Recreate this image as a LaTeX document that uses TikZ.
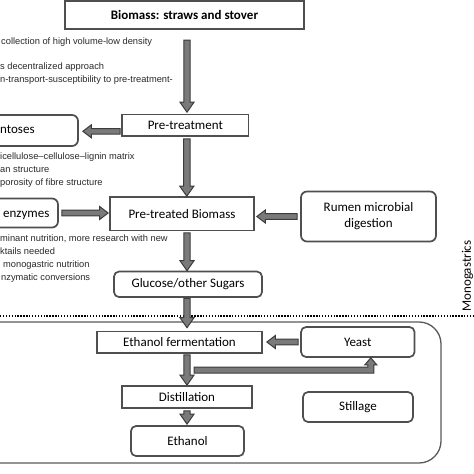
\documentclass[tikz,border=0pt]{standalone}
\usepackage{fontspec}
\setmainfont{Carlito}
\newfontfamily\notefont{Liberation Sans}
\usetikzlibrary{calc}
\definecolor{boxline}{HTML}{4F4F4F}
\definecolor{arrfill}{HTML}{7A7A7A}
\definecolor{arrline}{HTML}{3C3C3C}
\definecolor{notecol}{HTML}{2A2A2A}
\definecolor{sepline}{HTML}{5A5A5A}
\begin{document}
\begin{tikzpicture}[x=1pt,y=-1pt,
  sbox/.style={draw=boxline,line width=1.7pt,fill=white,inner sep=0pt,font=\fontsize{13}{16}\selectfont},
  rbox/.style={sbox,rounded corners=6pt},
  note/.style={font=\notefont\fontsize{9.3}{11}\selectfont,text=notecol,anchor=base west,inner sep=0pt},
  boxtext/.style={font=\fontsize{13}{16}\selectfont,anchor=base west,inner sep=0pt},
  barrow/.style={fill=arrfill,draw=arrline,line width=1pt,line join=miter},
  adown/.style={barrow,to path={let \p1=(\tikztostart), \p2=(\tikztotarget) in
    ({\x1-3.2pt},\y1) -- ({\x1-3.2pt},{\y2+10pt}) -- ({\x1-7pt},{\y2+10pt}) -- (\x1,\y2)
    -- ({\x1+7pt},{\y2+10pt}) -- ({\x1+3.2pt},{\y2+10pt}) -- ({\x1+3.2pt},\y1) -- cycle}},
  aleft/.style={barrow,to path={let \p1=(\tikztostart), \p2=(\tikztotarget) in
    (\x1,{\y1+2.8pt}) -- ({\x2+8.5pt},{\y1+2.8pt}) -- ({\x2+8.5pt},{\y1+6.5pt}) -- (\x2,\y1)
    -- ({\x2+8.5pt},{\y1-6.5pt}) -- ({\x2+8.5pt},{\y1-2.8pt}) -- (\x1,{\y1-2.8pt}) -- cycle}},
  aright/.style={barrow,to path={let \p1=(\tikztostart), \p2=(\tikztotarget) in
    (\x1,{\y1+2.8pt}) -- ({\x2-8.5pt},{\y1+2.8pt}) -- ({\x2-8.5pt},{\y1+6.5pt}) -- (\x2,\y1)
    -- ({\x2-8.5pt},{\y1-6.5pt}) -- ({\x2-8.5pt},{\y1-2.8pt}) -- (\x1,{\y1-2.8pt}) -- cycle}},
]
\useasboundingbox (0,0) rectangle (474,474);
\clip (0,0) rectangle (474,474);
\fill[white] (0,0) rectangle (474,474);

% separators
\draw[black,line width=1.8pt,dash pattern=on 1.4pt off 1.5pt] (0,316) -- (474,316);
\draw[sepline,line width=1.3pt,rounded corners=22pt] (-30,322) -- (441,322) -- (441,463) -- (-30,463);
\node[rotate=90,anchor=base,inner sep=0pt,font=\fontsize{13}{16}\selectfont] (mono) at (470.8,276) {Monogastrics};

% boxes
\node[sbox,minimum width=239pt,minimum height=28.5pt,font=\bfseries\fontsize{13}{16}\selectfont] (bio) at (184.5,15) {Biomass: straws and stover};
\node[sbox,minimum width=126.5pt,minimum height=21.5pt] (pre) at (185.3,125.3) {Pre-treatment};
\node[rbox,minimum width=134pt,minimum height=31pt] (pent) at (11,130.5) {};
\node[boxtext] (pentt) at (0,133.8) {ntoses};
\node[sbox,minimum width=144pt,minimum height=33.5pt] (prebio) at (182,213.8) {Pre-treated Biomass};
\node[rbox,minimum width=76pt,minimum height=29pt] (enz) at (20,213) {};
\node[boxtext] (enzt) at (3,217) {enzymes};
\node[rbox,minimum width=135pt,minimum height=50pt,align=center] (rumen) at (368.5,216.5) {Rumen microbial\\digestion};
\node[rbox,rounded corners=5pt,minimum width=148pt,minimum height=25.5pt] (glu) at (188,284.3) {Glucose/other Sugars};
\node[sbox,minimum width=165pt,minimum height=21.5pt] (ethf) at (179.5,342.3) {Ethanol fermentation};
\node[rbox,rounded corners=5pt,minimum width=113.5pt,minimum height=30pt] (yeast) at (357.8,342) {Yeast};
\node[sbox,minimum width=130pt,minimum height=22pt] (dist) at (187,397) {Distillation};
\node[rbox,rounded corners=5pt,minimum width=110pt,minimum height=30pt] (still) at (358,407) {Stillage};
\node[rbox,rounded corners=5pt,minimum width=113pt,minimum height=30pt] (eth) at (187.5,441) {Ethanol};

% notes
\node[note] (n1) at (1,44) {collection of high volume-low density};
\node[note] (n2) at (0,69) {s decentralized approach};
\node[note] (n3) at (0,82) {n-transport-susceptibility to pre-treatment-};
\node[note] (n4) at (0,159) {icellulose–cellulose–lignin matrix};
\node[note] (n5) at (0,172) {an structure};
\node[note] (n6) at (0,185) {porosity of fibre structure};
\node[note] (n7) at (0,241) {minant nutrition, more research with new};
\node[note] (n8) at (0,254) {ktails needed};
\node[note] (n9) at (3,267) {monogastric nutrition};
\node[note] (n10) at (1,280) {nzymatic conversions};

% arrows
\draw[adown] ($(bio.south)+(2.5,10)$) to ([yshift=1.5pt]pre.north);
\draw[adown] ($(pre.south)+(1.5,2)$) to (prebio.north);
\draw[adown] ($(prebio.south)+(5,1.5)$) to (glu.north);
\draw[adown] ($(glu.south)+(-1,0.5)$) to ([yshift=3pt]ethf.north);
\draw[adown] ($(ethf.south)+(7.5,1)$) to (dist.north);
\draw[adown] ($(dist.south)+(0,2)$) to ([yshift=1pt]eth.north);
\draw[aleft] ($(pre.west)+(-1,6)$) to ($(pent.east)+(4,0)$);
\draw[aright] ($(enz.east)+(3,0)$) to ($(prebio.west)+(-1,0)$);
\draw[aleft] ($(rumen.west)+(-3,0)$) to ($(prebio.east)+(2,0)$);
\draw[aleft] ($(yeast.west)+(-2,0)$) to ($(ethf.east)+(4,0)$);
\coordinate (tap) at (194,370);
\draw[barrow] let \p1=(tap), \p2=([xshift=13pt]yeast.south) in
  (\x1,{\y1+3pt}) -- ({\x2-3pt},{\y1+3pt}) -- ({\x2-3pt},{\y2-7pt}) -- ({\x2-6pt},{\y2-7pt})
  -- (\x2,\y2) -- ({\x2+6pt},{\y2-7pt}) -- ({\x2+3pt},{\y2-7pt}) -- ({\x2+3pt},{\y1-3pt})
  -- (\x1,{\y1-3pt}) -- cycle;
\end{tikzpicture}
\end{document}
